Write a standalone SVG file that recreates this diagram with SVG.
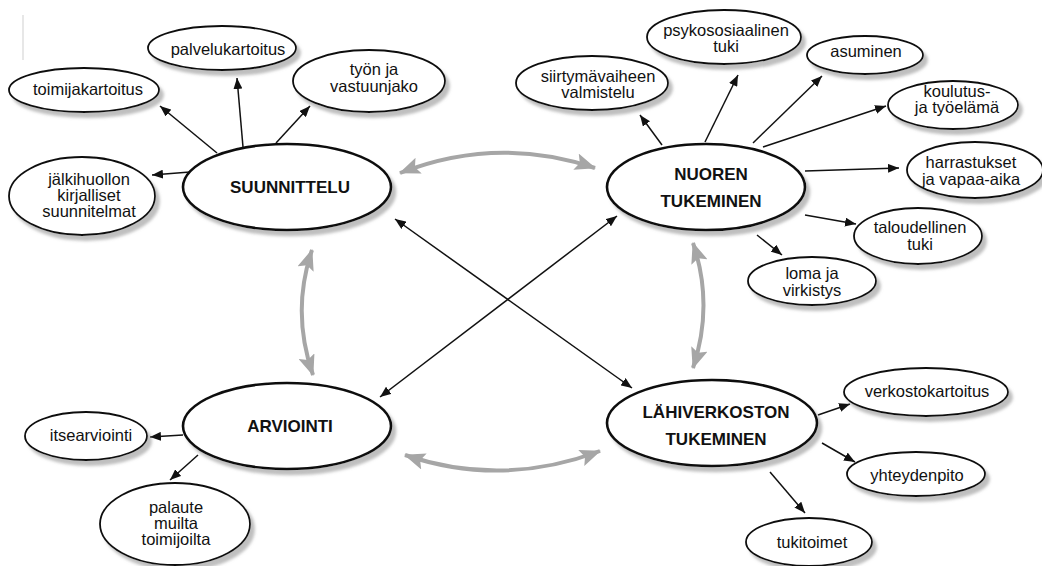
<svg xmlns="http://www.w3.org/2000/svg" width="1042" height="566" viewBox="0 0 1042 566">
<style>
  .main { fill: #fff; stroke: #111; stroke-width: 2.6; }
  .sub { fill: #fff; stroke: #111; stroke-width: 1.8; }
  .big { font-family: "Liberation Sans", Arial, sans-serif; font-weight: bold; font-size: 17px; fill: #111; text-anchor: middle; }
  .lbl { font-family: "Liberation Sans", Arial, sans-serif; font-size: 16.5px; fill: #111; text-anchor: middle; }
  .blk { fill: none; stroke: #111; stroke-width: 1.5; }
  .gry { fill: none; stroke: #a6a6a6; stroke-width: 4; }
</style>
<defs>
  <filter id="sh" x="-20%" y="-20%" width="150%" height="160%">
    <feDropShadow dx="4" dy="5" stdDeviation="1.6" flood-color="#8a8a8a" flood-opacity="0.55"/>
  </filter>
  <marker id="ab" markerUnits="userSpaceOnUse" markerWidth="11" markerHeight="9" refX="11" refY="4.5" orient="auto-start-reverse">
    <path d="M0,0 L11,4.5 L0,9 z" fill="#111"/>
  </marker>
  <marker id="ag" markerUnits="userSpaceOnUse" markerWidth="21" markerHeight="17" refX="20" refY="8.5" orient="auto-start-reverse">
    <path d="M0,0 L21,8.5 L0,17 L4,8.5 z" fill="#a6a6a6"/>
  </marker>
</defs>
<rect width="1042" height="566" fill="#fff"/>
<line x1="23" y1="15" x2="23" y2="60" stroke="#cfcfcf" stroke-width="1"/>

<g id="connectors">
  <!-- gray cycle arcs -->
  <path class="gry" d="M 400 173 Q 497 135 595 168" marker-start="url(#ag)" marker-end="url(#ag)"/>
  <path class="gry" d="M 405 455 Q 502 488 600 451" marker-start="url(#ag)" marker-end="url(#ag)"/>
  <path class="gry" d="M 312 250 Q 291 312 313 375" marker-start="url(#ag)" marker-end="url(#ag)"/>
  <path class="gry" d="M 693 243 Q 714 305 693 368" marker-start="url(#ag)" marker-end="url(#ag)"/>
  <!-- diagonals -->
  <line class="blk" x1="395" y1="219" x2="632" y2="388" marker-start="url(#ab)" marker-end="url(#ab)"/>
  <line class="blk" x1="617" y1="216" x2="380" y2="397" marker-start="url(#ab)" marker-end="url(#ab)"/>
  <!-- suunnittelu -->
  <line class="blk" x1="217" y1="153" x2="160" y2="106" marker-end="url(#ab)"/>
  <line class="blk" x1="243" y1="147" x2="237" y2="78" marker-end="url(#ab)"/>
  <line class="blk" x1="276" y1="143" x2="310" y2="106" marker-end="url(#ab)"/>
  <line class="blk" x1="190" y1="172" x2="152" y2="175" marker-end="url(#ab)"/>
  <!-- nuoren tukeminen -->
  <line class="blk" x1="662" y1="145" x2="640" y2="115" marker-end="url(#ab)"/>
  <line class="blk" x1="705" y1="142" x2="738" y2="75" marker-end="url(#ab)"/>
  <line class="blk" x1="753" y1="143" x2="822" y2="76" marker-end="url(#ab)"/>
  <line class="blk" x1="763" y1="147" x2="886" y2="106" marker-end="url(#ab)"/>
  <line class="blk" x1="805" y1="171" x2="899" y2="168" marker-end="url(#ab)"/>
  <line class="blk" x1="805" y1="215" x2="856" y2="224" marker-end="url(#ab)"/>
  <line class="blk" x1="757" y1="235" x2="782" y2="255" marker-end="url(#ab)"/>
  <!-- arviointi -->
  <line class="blk" x1="183" y1="435" x2="150" y2="437" marker-end="url(#ab)"/>
  <line class="blk" x1="198" y1="455" x2="170" y2="480" marker-end="url(#ab)"/>
  <!-- lähiverkoston tukeminen -->
  <line class="blk" x1="818" y1="415" x2="850" y2="404" marker-end="url(#ab)"/>
  <line class="blk" x1="822" y1="443" x2="855" y2="462" marker-end="url(#ab)"/>
  <line class="blk" x1="770" y1="472" x2="805" y2="513" marker-end="url(#ab)"/>
</g>

<g id="suunnittelu">
  <ellipse class="main" filter="url(#sh)" cx="287" cy="187" rx="104" ry="43"/>
  <text class="big" x="290" y="193">SUUNNITTELU</text>
</g>
<g id="palvelukartoitus">
  <ellipse class="sub" filter="url(#sh)" cx="222" cy="48" rx="74" ry="22"/>
  <text class="lbl" x="228" y="55">palvelukartoitus</text>
</g>
<g id="toimijakartoitus">
  <ellipse class="sub" filter="url(#sh)" cx="84" cy="90" rx="75" ry="22"/>
  <text class="lbl" x="88" y="95">toimijakartoitus</text>
</g>
<g id="tyon-ja-vastuunjako">
  <ellipse class="sub" filter="url(#sh)" cx="369" cy="81" rx="76" ry="31"/>
  <text class="lbl" x="374" y="75">työn ja</text>
  <text class="lbl" x="374" y="92">vastuunjako</text>
</g>
<g id="jalkihuollon">
  <ellipse class="sub" filter="url(#sh)" cx="82" cy="196" rx="73" ry="39"/>
  <text class="lbl" x="89" y="185">jälkihuollon</text>
  <text class="lbl" x="89" y="201">kirjalliset</text>
  <text class="lbl" x="89" y="217">suunnitelmat</text>
</g>

<g id="nuoren-tukeminen">
  <ellipse class="main" filter="url(#sh)" cx="706" cy="187" rx="99" ry="43"/>
  <text class="big" x="711" y="180">NUOREN</text>
  <text class="big" x="711" y="207">TUKEMINEN</text>
</g>
<g id="siirtymavaihe">
  <ellipse class="sub" filter="url(#sh)" cx="592" cy="83" rx="76" ry="27"/>
  <text class="lbl" x="598" y="82">siirtymävaiheen</text>
  <text class="lbl" x="598" y="98">valmistelu</text>
</g>
<g id="psykososiaalinen">
  <ellipse class="sub" filter="url(#sh)" cx="724" cy="37" rx="77" ry="27"/>
  <text class="lbl" x="726" y="36">psykososiaalinen</text>
  <text class="lbl" x="726" y="52">tuki</text>
</g>
<g id="asuminen">
  <ellipse class="sub" filter="url(#sh)" cx="865" cy="55" rx="58" ry="19"/>
  <text class="lbl" x="866" y="57">asuminen</text>
</g>
<g id="koulutus">
  <ellipse class="sub" filter="url(#sh)" cx="953" cy="105" rx="65" ry="24"/>
  <text class="lbl" x="957" y="97">koulutus-</text>
  <text class="lbl" x="957" y="113">ja työelämä</text>
</g>
<g id="harrastukset">
  <ellipse class="sub" filter="url(#sh)" cx="975" cy="170" rx="68" ry="28"/>
  <text class="lbl" x="971" y="168">harrastukset</text>
  <text class="lbl" x="971" y="185">ja vapaa-aika</text>
</g>
<g id="taloudellinen">
  <ellipse class="sub" filter="url(#sh)" cx="918" cy="236" rx="64" ry="28"/>
  <text class="lbl" x="920" y="233">taloudellinen</text>
  <text class="lbl" x="920" y="250">tuki</text>
</g>
<g id="loma">
  <ellipse class="sub" filter="url(#sh)" cx="812" cy="281" rx="64" ry="24"/>
  <text class="lbl" x="812" y="279">loma ja</text>
  <text class="lbl" x="812" y="296">virkistys</text>
</g>

<g id="arviointi">
  <ellipse class="main" filter="url(#sh)" cx="287" cy="426" rx="104" ry="43"/>
  <text class="big" x="290" y="432">ARVIOINTI</text>
</g>
<g id="itsearviointi">
  <ellipse class="sub" filter="url(#sh)" cx="86" cy="436" rx="61" ry="24"/>
  <text class="lbl" x="91" y="441">itsearviointi</text>
</g>
<g id="palaute">
  <ellipse class="sub" filter="url(#sh)" cx="175" cy="524" rx="75" ry="41"/>
  <text class="lbl" x="176" y="513">palaute</text>
  <text class="lbl" x="176" y="529">muilta</text>
  <text class="lbl" x="176" y="545">toimijoilta</text>
</g>

<g id="lahiverkoston-tukeminen">
  <ellipse class="main" filter="url(#sh)" cx="712" cy="423" rx="105" ry="43"/>
  <text class="big" x="716" y="418">LÄHIVERKOSTON</text>
  <text class="big" x="716" y="445">TUKEMINEN</text>
</g>
<g id="verkostokartoitus">
  <ellipse class="sub" filter="url(#sh)" cx="926" cy="392" rx="82" ry="24"/>
  <text class="lbl" x="927" y="397">verkostokartoitus</text>
</g>
<g id="yhteydenpito">
  <ellipse class="sub" filter="url(#sh)" cx="916" cy="474" rx="69" ry="22"/>
  <text class="lbl" x="917" y="481">yhteydenpito</text>
</g>
<g id="tukitoimet">
  <ellipse class="sub" filter="url(#sh)" cx="809" cy="542" rx="63" ry="24"/>
  <text class="lbl" x="812" y="548">tukitoimet</text>
</g>
</svg>
